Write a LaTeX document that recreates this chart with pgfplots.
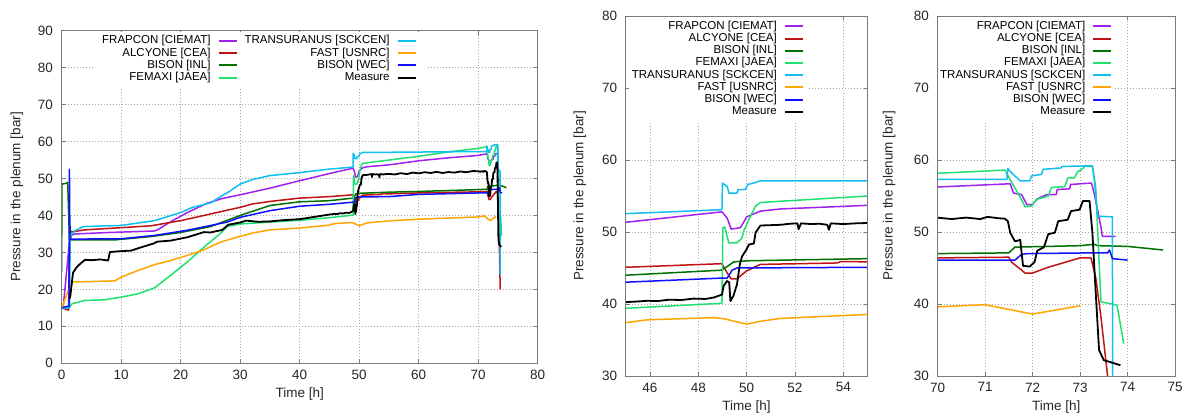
\documentclass[border=0pt]{standalone}
\usepackage{fontspec}
\setmainfont{Liberation Sans}
\usepackage{pgfplots}
\pgfplotsset{compat=1.18}
\usepackage{pgfplotstable}

\definecolor{cFRAP}{HTML}{A020F0}
\definecolor{cALCY}{HTML}{C01414}
\definecolor{cBINL}{HTML}{007000}
\definecolor{cFEM}{HTML}{20E070}
\definecolor{cTRU}{HTML}{10BEF0}
\definecolor{cFAST}{HTML}{FFA500}
\definecolor{cBWEC}{HTML}{1010FF}
\definecolor{cMEAS}{HTML}{000000}
\definecolor{cAxis}{HTML}{7A7A7A}
\definecolor{cGrid}{HTML}{A8A8A8}

\newcommand\tickfont{\fontsize{13.5bp}{16bp}\selectfont}
\newcommand\legfont{\fontsize{11.5bp}{12.2bp}\selectfont}

\pgfplotstableread{
x y
0 15
0.3 16
1.4 34.5
2.2 35.0
8 35.4
15.6 35.8
16.2 36.2
18 38.0
21 40.7
24.4 43.3
27 44.6
30 45.6
35 47.4
40 49.4
45 51.35
48.98 52.8
49.2 51.9
49.36 50.4
49.74 50.6
49.85 51.2
50.0 52.1
50.57 52.9
51.4 53.2
55 53.7
60 54.8
65 55.6
70 56.25
71.53 56.7
71.6 55.4
71.77 55.2
71.88 53.8
72.0 53.8
72.1 54.6
72.3 55.2
72.5 55.2
72.52 55.9
72.78 56.0
72.8 56.6
73.24 56.8
73.3 55.3
73.44 50.7
73.47 49.4
73.75 49.4
}\tFRAP

\pgfplotstableread{
x y
0 15
1.15 14.4
1.35 35.5
3.9 36.1
10 36.7
15 37.2
20 38.6
25 40.4
28 41.5
30 42.2
32 43.1
35 43.8
40 44.7
45 45.1
48.98 45.6
49.2 44.3
49.36 43.5
49.6 43.5
50 44.6
50.57 45.5
53.75 45.7
53.9 45.9
55 45.85
60 46.1
70 46.4
71.5 46.5
71.56 45.8
71.77 44.7
71.84 44.3
72 44.3
72.33 45.1
72.74 45.9
73 46.4
73.23 46.4
73.33 43.7
73.44 38.2
73.58 30
73.7 20
}\tALCY

\pgfplotstableread{
x y
0 24.6
0.02 48.5
0.8 48.7
1.0 49.0
1.1 44
1.3 33.5
1.45 37
1.55 33.4
9 33.4
15 34.3
20 35.4
25 37
30 40
35 42.7
40 43.7
45 44.0
48.98 44.7
49.47 45.85
50 46.0
55 46.3
60 46.5
70 47.0
71.5 47.1
71.63 47.9
73 48.1
73.3 48.3
73.37 48.1
74 48.0
74.75 47.5
}\tBINL

\pgfplotstableread{
x y
0 14.8
1.4 15.2
1.7 16.1
3.9 17.0
7.2 17.2
10 17.9
12.8 18.8
15.6 20.4
18.3 23.8
21.1 27.4
23.9 31.4
26.7 35.2
27.8 37.0
30 37.7
35 38.2
40 38.7
45 39.4
48.98 40.1
49.02 50.6
49.1 50.7
49.26 48.5
49.6 48.5
49.8 49.1
49.9 50.3
50.16 52.2
50.37 53.6
50.57 54.1
55 55.0
60 56.0
65 57.2
70 58.15
71.42 58.6
71.5 57.6
71.77 54.5
71.84 53.5
71.98 53.6
72.08 54.5
72.33 55.0
72.4 56.2
72.68 56.3
72.74 57.5
72.88 57.5
72.95 58.4
73.02 58.6
73.1 59.1
73.26 59.1
73.33 56.2
73.44 40.3
73.68 40.0
73.78 39.8
73.92 34.5
}\tFEM

\pgfplotstableread{
x y
0 15
1.3 15
1.45 34.5
2.2 35.8
3.6 37
10 37.3
15.6 38.6
20 40.8
22 42.2
25 43.4
27 45.4
28 46.3
30 48.5
32 49.7
35 50.8
40 51.6
45 52.55
48.98 53.1
49.0 56.8
49.2 56.3
49.27 55.4
49.6 55.4
49.65 55.9
49.95 55.9
50.05 56.6
50.3 56.8
50.57 57.1
55 57.1
70 57.3
71.46 57.3
71.48 58.8
71.56 58.2
71.74 57.1
71.94 57.1
71.98 57.8
72.19 58.0
72.22 58.7
72.6 58.9
72.62 59.1
73.26 59.2
73.3 57.3
73.37 52.2
73.68 52.1
73.69 24
}\tTRU

\pgfplotstableread{
x y
0 15
1.1 19.7
1.9 22
8.9 22.3
10 23.3
12.8 25.1
15.6 26.7
18.3 27.8
21.1 29.2
23.9 30.7
26.7 32.8
29.4 34.1
32.2 35.3
35 36.1
40 36.6
45 37.4
45.87 37.8
48.6 38.1
49 38.0
50 37.2
50.57 37.6
51.4 38.0
55 38.55
60 39.0
70 39.6
71 39.9
72 38.6
73 39.75
}\tFAST

\pgfplotstableread{
x y
0 15
1.25 15.5
1.3 52.5
1.38 33.6
10 33.7
15.6 34.6
21.1 36
27.8 38.2
30 39.5
35 41.3
40 42.5
45 43.03
48.98 43.6
49.2 43.6
49.4 44.7
49.6 45.0
55 45.1
60 45.7
70 46.1
71.63 46.1
71.77 46.9
71.9 47.0
73.23 47.1
73.58 47.1
73.62 47.5
73.68 46.3
74 46.1
}\tBWEC

\pgfplotstableread{
x y
1.3 17.5
1.45 18.2
1.9 24.5
2.5 26
3.1 26.9
3.9 28
5 27.9
6.5 28.1
7.8 27.8
8.1 30.1
9.5 30.3
11.7 30.5
13 31.2
15.6 32.5
16 32.9
18.3 33.2
21.1 34.1
23.9 35.5
25 35.4
27 36.1
28 37.5
30 38.1
31 38.6
33 38.3
35 38.4
37 38.7
40 39.0
42 39.5
45 40.26
45.5 40.35
45.9 40.45
46.3 40.4
46.8 40.6
47.3 40.55
47.8 40.75
48.3 40.7
48.64 40.9
48.98 41.3
49.05 42.5
49.19 43.2
49.28 43.0
49.33 40.4
49.45 41.1
49.6 42.7
49.72 45.5
49.81 46.6
50 47.6
50.09 48.25
50.3 48.4
50.37 49.9
50.57 50.9
51.0 50.95
51.4 51.0
51.8 51.15
52.1 51.2
52.15 50.4
52.25 51.2
52.7 51.1
53.0 51.15
53.34 51.0
53.4 50.3
53.48 51.2
54.0 51.1
54.5 51.2
55 51.25
56 51.1
57 51.45
58 51.2
59 51.6
60 51.4
61 51.7
62 51.5
63 51.8
64 51.5
65 51.75
66 51.6
67 51.9
68 51.7
69 52.0
70 51.99
70.3 51.8
70.6 52.0
70.9 51.8
71.05 52.1
71.3 51.9
71.42 51.85
71.48 51.5
71.53 49.9
71.63 48.7
71.74 48.9
71.77 47.1
71.8 45.3
71.94 45.2
72.04 45.8
72.1 47.4
72.24 47.9
72.33 49.7
72.47 49.9
72.54 51.5
72.74 51.7
72.81 52.9
72.99 53.1
73.06 54.3
73.2 54.3
73.26 49.9
73.33 41.6
73.4 33.6
73.5 32.2
73.65 31.9
73.85 31.5
}\tMEAS

\pgfplotsset{
  sFRAP/.style={color=cFRAP, line width=1.5bp},
  sALCY/.style={color=cALCY, line width=1.5bp},
  sBINL/.style={color=cBINL, line width=1.5bp},
  sFEM/.style={color=cFEM, line width=1.5bp},
  sTRU/.style={color=cTRU, line width=1.5bp},
  sFAST/.style={color=cFAST, line width=1.5bp},
  sBWEC/.style={color=cBWEC, line width=1.5bp},
  sMEAS/.style={color=cMEAS, line width=1.8bp},
  base/.style={
    scale only axis, anchor=south west,
    axis line style={draw=cAxis, line width=0.9bp},
    tick style={draw=cAxis, line width=0.8bp},
    major tick length=4bp,
    tick align=inside,
    grid=major,
    grid style={draw=cGrid, line width=0.6bp, dash pattern=on 1bp off 2bp},
    tick label style={font=\tickfont, text=black!85, inner sep=0pt},
    label style={font=\tickfont, text=black!85},
    /pgf/number format/assume math mode=true,
    xticklabel style={anchor=north, yshift=-6.5bp},
    yticklabel style={anchor=east, xshift=-8.5bp},
    xlabel={Time [h]}, ylabel={Pressure in the plenum [bar]},
    legend style={draw=none, fill=white, font=\legfont, inner xsep=3bp, inner ysep=3bp,
      row sep=0pt, column sep=7bp, anchor=north east,
      nodes={inner sep=0pt, text height=9.0bp, text depth=3.2bp}},
    legend cell align=right, legend plot pos=right,
    legend image code/.code={\draw[##1, line width=2bp] (0bp,0bp) -- (18bp,0bp);},
    every axis plot/.append style={line join=round, no markers},
  }
}

\begin{document}
\begin{tikzpicture}
\useasboundingbox (0,0) rectangle (1188bp,416bp);

% Panel 1
\begin{axis}[base, name=p1, at={(61.7bp,52.7bp)}, width=476bp, height=332.6bp,
  xmin=0, xmax=80, ymin=0, ymax=90,
  xtick={0,10,...,80}, ytick={0,10,...,90},
  xlabel style={at={(axis description cs:0.5,-0.0923)}, anchor=center},
  ylabel style={at={(axis description cs:-0.094,0.5)}, anchor=center},
  legend columns=2,
  legend style={at={(axis description cs:0.765,0.997)}, inner xsep=9bp},
]
\addplot[sFRAP, forget plot] table {\tFRAP};
\addplot[sALCY, forget plot] table {\tALCY};
\addplot[sBINL, forget plot] table {\tBINL};
\addplot[sFEM, forget plot] table {\tFEM};
\addplot[sTRU, forget plot] table {\tTRU};
\addplot[sFAST, forget plot] table {\tFAST};
\addplot[sBWEC, forget plot] table {\tBWEC};
\addplot[sMEAS, forget plot] table {\tMEAS};
\addlegendimage{sFRAP}\addlegendentry{FRAPCON [CIEMAT]}
\addlegendimage{sTRU}\addlegendentry{TRANSURANUS [SCKCEN]}
\addlegendimage{sALCY}\addlegendentry{ALCYONE [CEA]}
\addlegendimage{sFAST}\addlegendentry{FAST [USNRC]}
\addlegendimage{sBINL}\addlegendentry{BISON [INL]}
\addlegendimage{sBWEC}\addlegendentry{BISON [WEC]}
\addlegendimage{sFEM}\addlegendentry{FEMAXI [JAEA]}
\addlegendimage{sMEAS}\addlegendentry{Measure}
\end{axis}
\draw[cAxis, line width=0.9bp] (p1.south west) rectangle (p1.north east);

% Panel 2
\begin{axis}[base, name=p2, at={(625.7bp,40bp)}, width=241.8bp, height=360bp,
  xmin=45, xmax=55, ymin=30, ymax=80,
  xtick={46,48,...,54}, ytick={30,40,...,80},
  xlabel style={at={(axis description cs:0.5,-0.0853)}, anchor=center},
  ylabel style={at={(axis description cs:-0.19,0.5)}, anchor=center},
  legend style={at={(axis description cs:0.750,0.997)}},
]
\addplot[sFRAP] table {\tFRAP}; \addlegendentry{FRAPCON [CIEMAT]}
\addplot[sALCY] table {\tALCY}; \addlegendentry{ALCYONE [CEA]}
\addplot[sBINL] table {\tBINL}; \addlegendentry{BISON [INL]}
\addplot[sFEM] table {\tFEM}; \addlegendentry{FEMAXI [JAEA]}
\addplot[sTRU] table {\tTRU}; \addlegendentry{TRANSURANUS [SCKCEN]}
\addplot[sFAST] table {\tFAST}; \addlegendentry{FAST [USNRC]}
\addplot[sBWEC] table {\tBWEC}; \addlegendentry{BISON [WEC]}
\addplot[sMEAS] table {\tMEAS}; \addlegendentry{Measure}
\end{axis}
\draw[cAxis, line width=0.9bp] (p2.south west) rectangle (p2.north east);

% Panel 3
\begin{axis}[base, name=p3, at={(937.5bp,40bp)}, width=237.5bp, height=360bp,
  xmin=70, xmax=75, ymin=30, ymax=80,
  xtick={70,71,...,75}, ytick={30,40,...,80},
  xlabel style={at={(axis description cs:0.5,-0.0853)}, anchor=center},
  ylabel style={at={(axis description cs:-0.204,0.5)}, anchor=center},
  legend style={at={(axis description cs:0.749,0.997)}},
]
\addplot[sFRAP] table {\tFRAP}; \addlegendentry{FRAPCON [CIEMAT]}
\addplot[sALCY] table {\tALCY}; \addlegendentry{ALCYONE [CEA]}
\addplot[sBINL] table {\tBINL}; \addlegendentry{BISON [INL]}
\addplot[sFEM] table {\tFEM}; \addlegendentry{FEMAXI [JAEA]}
\addplot[sTRU] table {\tTRU}; \addlegendentry{TRANSURANUS [SCKCEN]}
\addplot[sFAST] table {\tFAST}; \addlegendentry{FAST [USNRC]}
\addplot[sBWEC] table {\tBWEC}; \addlegendentry{BISON [WEC]}
\addplot[sMEAS] table {\tMEAS}; \addlegendentry{Measure}
\end{axis}
\draw[cAxis, line width=0.9bp] (p3.south west) rectangle (p3.north east);
\end{tikzpicture}
\end{document}
